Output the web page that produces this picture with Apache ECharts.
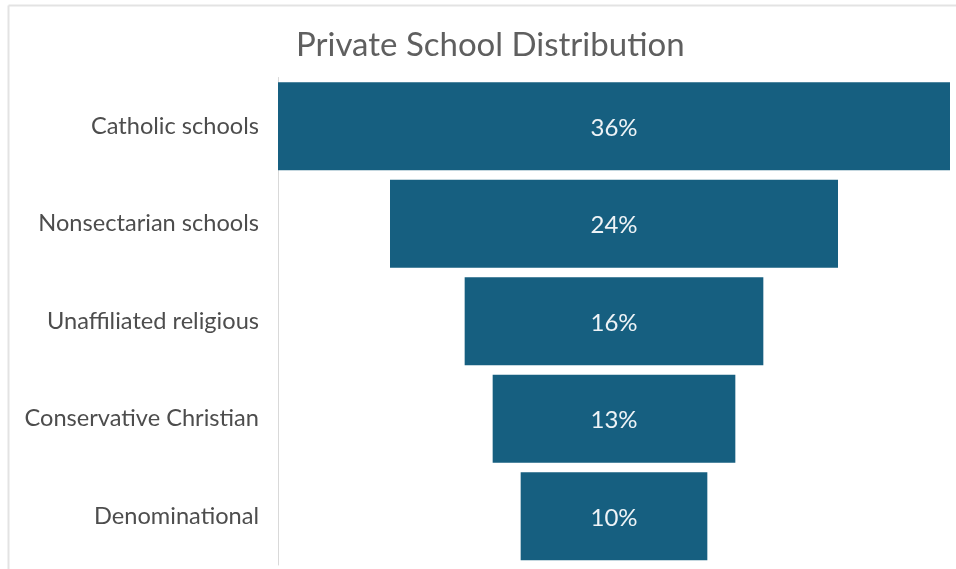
<!DOCTYPE html>
<html><head><meta charset="utf-8">
<script src="https://cdn.jsdelivr.net/npm/echarts@6/dist/echarts.min.js"></script>
<style>html,body{margin:0;padding:0;background:#fff}#c{width:956px;height:569px}</style>
</head><body><div id="c"></div>
<script>
var categories = ['Catholic schools','Nonsectarian schools','Unaffiliated religious','Conservative Christian','Denominational'];
var values = [36, 24, 16, 13, 10];
var maxVal = 36;
var offsets = values.map(function(v){ return (maxVal - v) / 2; });

var chart = echarts.init(document.getElementById('c'));
chart.setOption({
  animation: false,
  title: {
    text: 'Private School Distribution',
    left: 291, top: 24,
    textStyle: { fontFamily: 'Lato', fontSize: 33, fontWeight: 'normal', color: '#5f5f5f' }
  },
  graphic: [
    { type: 'line', shape: { x1: 8.5, y1: 5.5, x2: 956, y2: 5.5 }, style: { stroke: '#e3e3e3', lineWidth: 2 } },
    { type: 'line', shape: { x1: 8.5, y1: 5.5, x2: 8.5, y2: 569 }, style: { stroke: '#e3e3e3', lineWidth: 2 } }
  ],
  grid: { left: 278, right: 6, top: 77.5, height: 487.5, containLabel: false },
  xAxis: { type: 'value', min: 0, max: maxVal, show: false },
  yAxis: {
    type: 'category', data: categories, inverse: true,
    axisLine: { show: true, lineStyle: { color: '#d9d9d9', width: 1 } },
    axisTick: { show: false },
    axisLabel: { margin: 19, fontFamily: 'Lato', fontSize: 23.6, color: '#4d4d4d', padding: [4, 0, 0, 0] }
  },
  series: [
    { type: 'bar', stack: 'f', data: offsets, barWidth: 88, itemStyle: { color: 'transparent' }, silent: true },
    { type: 'bar', stack: 'f', data: values, barWidth: 88, itemStyle: { color: '#165f80' },
      label: { show: true, position: 'inside', offset: [0, 2], formatter: '{c}%', fontFamily: 'Lato', fontSize: 24, color: '#eef3f6' } }
  ]
});
</script></body></html>
